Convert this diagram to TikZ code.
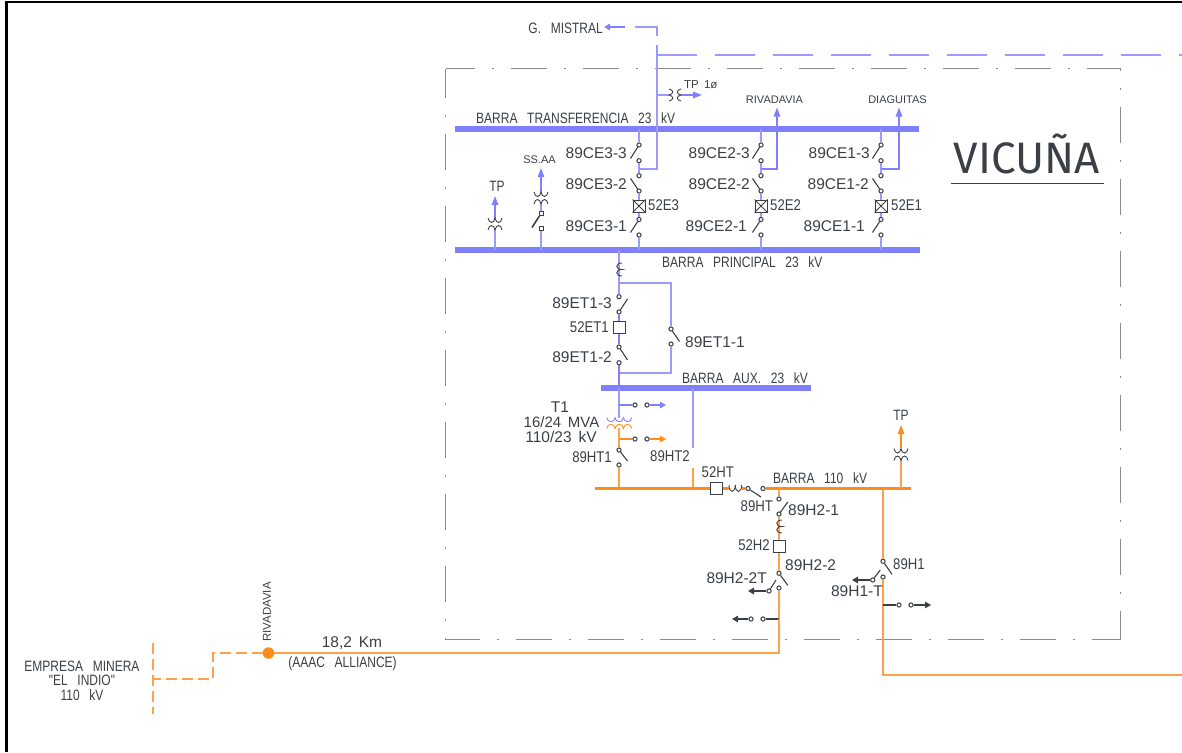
\documentclass[tikz,border=0pt]{standalone}
\usepackage{fontspec}
\setmainfont[WordSpace=1.6]{Liberation Sans}
\newfontfamily\barf[FakeStretch=0.8,WordSpace=2.9]{Liberation Sans}
\newfontfamily\midf[FakeStretch=0.85]{Liberation Sans}
\newfontfamily\titlefont{Fira Sans}
\usetikzlibrary{arrows.meta}
\definecolor{bluel}{HTML}{8080FF}
\definecolor{orangel}{HTML}{FF8C1A}
\definecolor{bluet}{HTML}{9A9AFF}
\definecolor{oranget}{HTML}{FFA04A}
\definecolor{inkc}{HTML}{3A4046}
\definecolor{boxc}{HTML}{8C8C8C}
\tikzset{
  lbl/.style={inner sep=0pt,text=inkc,font=\fontsize{15.5}{15.5}\selectfont},
  lbe/.style={lbl,anchor=east},
  lbw/.style={lbl,anchor=west},
  nar/.style={lbl,font=\barf\fontsize{15}{15}\selectfont},
  mid/.style={lbl,font=\midf\fontsize{15.5}{15.5}\selectfont},
  sml/.style={lbl,font=\fontsize{11}{11}\selectfont},
  term/.style={circle,draw=inkc,fill=white,line width=1pt,inner sep=0pt,minimum size=4.2pt},
  sqterm/.style={rectangle,draw=inkc,fill=white,line width=1pt,inner sep=0pt,minimum size=4pt},
  brk/.style={rectangle,draw=inkc,fill=white,line width=1pt,inner sep=0pt,minimum size=12pt},
  blade/.style={draw=inkc,line width=1.1pt},
  coil/.style={draw=inkc,line width=.9pt},
  bl/.style={draw=bluet,line width=1.2pt},
  or/.style={draw=oranget,line width=1.2pt},
  dk/.style={draw=inkc,line width=1.1pt},
  blbar/.style={draw=bluel,line width=6pt},
  orbar/.style={draw=orangel,line width=3.4pt},
  tipb/.style={-{Triangle[length=9pt,width=6.5pt]}},
  tipd/.style={-{Triangle[length=6pt,width=6.5pt]}},
}
\newcommand{\tfv}[3][coil]{\begin{scope}[shift={(#2,#3)}]
  \draw[#1] (-7,-6) .. controls (-6,0) and (-1,0) .. (0,-6) .. controls (1,0) and (6,0) .. (7,-6);
  \draw[#1] (-7,6) .. controls (-6,0) and (-1,0) .. (0,6) .. controls (1,0) and (6,0) .. (7,6);
\end{scope}}
\newcommand{\ctv}[2]{\draw[coil] (#1+3,#2-6.5) .. controls (#1-4,#2-6.5) and (#1-4,#2) .. (#1+3,#2) .. controls (#1-4,#2) and (#1-4,#2+6.5) .. (#1+3,#2+6.5);}
\newcommand{\feeder}[2]{
  \node[term] (#1a) at (#2,145) {};
  \node[term] (#1b) at (#2,160.7) {};
  \node[term] (#1c) at (#2,175.7) {};
  \node[term] (#1d) at (#2,191) {};
  \node[brk] (#1k) at (#2,206) {};
  \draw[coil] (#1k.north west) -- (#1k.south east) (#1k.north east) -- (#1k.south west);
  \node[term] (#1e) at (#2,219.5) {};
  \node[term] (#1f) at (#2,235) {};
  \coordinate (#1j) at (#2,169);
  \coordinate (#1t) at (#2,129);
  \coordinate (#1p) at (#2,250);
  \draw[bl] (#1t) -- (#1a);
  \draw[bl] (#1b) -- (#1j) -- (#1c);
  \draw[bl] (#1d) -- (#1k);
  \draw[bl] (#1k) -- (#1e);
  \draw[bl] (#1f) -- (#1p);
  \draw[blade] (#1a) -- ++(-8.5,13.5);
  \draw[blade] (#1d) -- ++(-8.5,-12.5);
  \draw[blade] (#1e) -- ++(-8.5,13);
}
\begin{document}
\begin{tikzpicture}[x=1pt,y=-1pt]
\useasboundingbox (0,0) rectangle (1182,752);
\coordinate (fa) at (1182,2); \coordinate (fb) at (6.5,2); \coordinate (fc) at (6.5,752);
\draw[black,line width=2.6pt] (fa) -- (fb) -- (fc);
\draw[boxc,line width=1.2pt,dash pattern=on 36pt off 17pt on 2pt off 17pt,dash phase=7pt] (445.5,68.5) -- (1120.5,68.5) -- (1120.5,639.5);
\draw[boxc,line width=1.2pt,dash pattern=on 36pt off 17pt on 2pt off 17pt,dash phase=7pt] (445.5,68.5) -- (445.5,639.5) -- (1120.5,639.5);
\coordinate (btl) at (455,129); \coordinate (btr) at (919,129);
\coordinate (bpl) at (455,250); \coordinate (bpr) at (920,250);
\coordinate (bal) at (601,388); \coordinate (bar) at (811,388);
\draw[blbar] (btl) -- (btr);
\draw[blbar] (bpl) -- (bpr);
\draw[blbar] (bal) -- (bar);
\feeder{eiii}{639}
\feeder{eii}{761}
\feeder{ei}{881}
\node[lbe] (l1) at (627,153) {89CE3-3};
\node[lbe] (l2) at (627,184) {89CE3-2};
\node[mid,anchor=west] (l3) at (648,205) {52E3};
\node[lbe] (l4) at (627,226) {89CE3-1};
\node[lbe] (l5) at (750,153) {89CE2-3};
\node[lbe] (l6) at (750,184) {89CE2-2};
\node[mid,anchor=west] (l7) at (770,205) {52E2};
\node[lbe] (l8) at (747,226) {89CE2-1};
\node[lbe] (l9) at (870,153) {89CE1-3};
\node[lbe] (l10) at (869,184) {89CE1-2};
\node[mid,anchor=west] (l11) at (891,205) {52E1};
\node[lbe] (l12) at (865,226) {89CE1-1};
\coordinate (gm1) at (657,169); \coordinate (gm2) at (657,45); \coordinate (gm3) at (657,36);
\coordinate (gm4) at (657,27); \coordinate (gm5) at (635,27); \coordinate (gm6) at (625,27); \coordinate (gm7) at (604,27);
\draw[bl] (eiiij) -- (gm1) -- (gm2);
\draw[bl] (gm3) -- (gm4) -- (gm5);
\draw[bl,draw=bluel,tipd] (gm6) -- (gm7);
\coordinate (dsh) at (1182,55); \coordinate (dsh0) at (657,55);
\draw[bl,dash pattern=on 40pt off 18pt] (dsh0) -- (dsh);
\node[nar,anchor=east] (gm) at (603,28) {G. MISTRAL};
\coordinate (tp0) at (657,95); \coordinate (tp1) at (668.5,95); \coordinate (tp2) at (681,95); \coordinate (tp3) at (702,95);
\draw[bl] (tp0) -- (tp1);
\draw[bl,draw=bluel,tipb] (tp2) -- (tp3);
\begin{scope}[shift={(675,95)},rotate=90]
  \draw[coil] (-6,-6) .. controls (-5,-1) and (-1,-1) .. (0,-6) .. controls (1,-1) and (5,-1) .. (6,-6);
  \draw[coil] (-6,6) .. controls (-5,1) and (-1,1) .. (0,6) .. controls (1,1) and (5,1) .. (6,6);
\end{scope}
\node[lbl,font=\fontsize{11.5}{11.5}\selectfont,anchor=west] (tpl) at (684,85) {TP 1ø};
\node[nar,anchor=west] (bt) at (476,118) {BARRA TRANSFERENCIA 23 kV};
\node[nar,anchor=west] (bp) at (662,262) {BARRA PRINCIPAL 23 kV};
\coordinate (rv1) at (777,169); \coordinate (rv2) at (777,107.5);
\draw[bl,draw=bluel,tipb] (eiij) -- (rv1) -- (rv2);
\coordinate (dg1) at (899,169); \coordinate (dg2) at (899,107.5);
\draw[bl,draw=bluel,tipb] (eij) -- (dg1) -- (dg2);
\node[sml] (rv) at (774.5,100) {RIVADAVIA};
\node[sml] (dg) at (897.5,100) {DIAGUITAS};
\coordinate (tl0) at (495,250); \coordinate (tl1) at (495,230); \coordinate (tl2) at (495,218); \coordinate (tl3) at (495,196);
\draw[bl] (tl0) -- (tl1);
\draw[bl,draw=bluel,tipb] (tl2) -- (tl3);
\tfv{495}{224}
\node[nar] (tpa) at (497,186) {TP};
\node[sqterm] (ssa) at (541,228.5) {};
\node[sqterm] (ssb) at (541,213.5) {};
\coordinate (ss0) at (541,250); \coordinate (ss1) at (541,204); \coordinate (ss2) at (541,192); \coordinate (ss3) at (541,168);
\draw[bl] (ss0) -- (ssa);
\draw[bl] (ssb) -- (ss1);
\draw[bl,draw=bluel,tipb] (ss2) -- (ss3);
\tfv{541}{198}
\draw[blade,line width=1.6pt] (ssb) -- ++(-9,14);
\node[sml] (ssl) at (539.5,160) {SS.AA};
\node[term] (eta) at (619,296.7) {};
\node[term] (etb) at (619,312) {};
\node[brk] (etk) at (619,327.5) {};
\node[term] (etc) at (619,347) {};
\node[term] (etd) at (619,362.7) {};
\node[term] (ete) at (671,329) {};
\node[term] (etf) at (671,344) {};
\coordinate (et0) at (619,250); \coordinate (et1) at (619,283); \coordinate (et2) at (671,283);
\coordinate (et3) at (671,373); \coordinate (et4) at (619,373); \coordinate (et5) at (619,388);
\draw[bl] (et0) -- (et1) -- (eta);
\draw[bl] (et1) -- (et2) -- (ete);
\draw[bl] (etf) -- (et3) -- (et4);
\draw[bl,draw=bluel] (etb) -- (etk);
\draw[bl,draw=bluel] (etk) -- (etc);
\draw[bl,draw=bluel] (etd) -- (et5);
\ctv{619}{269.5}
\draw[blade] (etb) -- ++(8.5,-13);
\draw[blade] (etc) -- ++(8.5,13);
\draw[blade] (ete) -- ++(8.5,12.5);
\node[lbe] (l13) at (612,303) {89ET1-3};
\node[mid,anchor=east] (l14) at (609,327) {52ET1};
\node[lbe] (l15) at (612,357) {89ET1-2};
\node[lbw] (l16) at (685,342) {89ET1-1};
\node[nar,anchor=west] (ba) at (682,378) {BARRA AUX. 23 kV};
\coordinate (t1a) at (619,417.7); \coordinate (t1b) at (619,428);
\coordinate (t1c) at (619,405); \coordinate (t1d) at (619,439);
\draw[bl] (et5) -- (t1a);
\draw[bluel,line width=.9pt] (606.7,417.7) .. controls (607.5,423) and (614.5,423) .. (615,417.7) .. controls (615.5,423) and (623,423) .. (623.4,417.7) .. controls (624,423) and (631,423) .. (631.7,417.7);
\draw[orangel,line width=.9pt] (606.7,428.5) .. controls (607.5,423) and (614.5,423) .. (615,428.5) .. controls (615.5,423) and (623,423) .. (623.4,428.5) .. controls (624,423) and (631,423) .. (631.7,428.5);
\node[term] (bta) at (635,405) {};
\node[term] (btb) at (647,405) {};
\coordinate (btt) at (666,405);
\draw[bl,draw=bluel] (t1c) -- (bta);
\draw[bl,draw=bluel,tipd] (btb) -- (btt);
\node[term] (ota) at (635,439) {};
\node[term] (otb) at (647,439) {};
\coordinate (ott) at (666,439);
\draw[or,draw=orangel] (t1d) -- (ota);
\draw[or,draw=orangel,tipd] (otb) -- (ott);
\node[term] (hta) at (619,450) {};
\node[term] (htb) at (619,465) {};
\coordinate (ht0) at (619,488.5);
\draw[or] (t1b) -- (hta);
\draw[or] (htb) -- (ht0);
\draw[blade] (hta) -- ++(8.5,11);
\node[lbl] (t1l) at (560,407) {T1};
\node[lbl,font=\fontsize{15}{15}\selectfont] (t1m) at (561.5,422) {16/24 MVA};
\node[lbl] (t1n) at (561,436.5) {110/23 kV};
\node[mid,anchor=east] (l17) at (612,457) {89HT1};
\coordinate (h2a) at (693,388); \coordinate (h2b) at (693,448); \coordinate (h2c) at (693,468); \coordinate (h2d) at (693,488.5);
\draw[bl] (h2a) -- (h2b);
\draw[or] (h2c) -- (h2d);
\node[mid,anchor=west] (l18) at (650,456) {89HT2};
\node[brk] (hk) at (716.7,488.5) {};
\node[term] (hs1) at (748,488.5) {};
\node[term] (hs2) at (763,488.5) {};
\coordinate (b1) at (595,488.5); \coordinate (b2) at (729,488.5); \coordinate (b3) at (741.7,488.5); \coordinate (b4) at (911,488.5);
\draw[orbar] (b1) -- (hk);
\draw[orbar] (hk) -- (b2);
\draw[orbar] (b3) -- (hs1);
\draw[orbar] (hs2) -- (b4);
\draw[coil] (729,485) .. controls (729,493.5) and (735.3,493.5) .. (735.3,485) .. controls (735.3,493.5) and (741.7,493.5) .. (741.7,485);
\draw[blade] (hs1) -- ++(13,8.5);
\node[mid,anchor=west] (l19) at (701.5,472) {52HT};
\node[nar,anchor=west] (bh) at (773,478) {BARRA 110 kV};
\node[mid,anchor=west] (l20) at (740.5,506) {89HT};
\node[term] (ha) at (779,499) {};
\node[term] (hb) at (779,514) {};
\node[brk] (hh) at (779,546) {};
\node[term] (hc) at (779,573.3) {};
\node[term] (hd) at (779,588) {};
\coordinate (h0) at (779,488.5); \coordinate (h9) at (779,653); \coordinate (h8) at (779,619);
\draw[or] (h0) -- (ha);
\draw[or] (hb) -- (hh);
\draw[or] (hh) -- (hc);
\draw[or] (hd) -- (h9);
\ctv{779}{526.5}
\draw[blade] (hb) -- ++(8.8,-12);
\draw[blade] (hc) -- ++(8.8,12);
\node[term] (hte) at (769,591) {};
\coordinate (htt) at (748,591);
\draw[blade] (hte) -- ++(7,-11);
\draw[dk,line width=1.4pt,tipd] (hte) -- (htt);
\node[term] (hg) at (763,619) {};
\node[term] (hf) at (751,619) {};
\coordinate (hgt) at (732,619);
\draw[dk] (h8) -- (hg);
\draw[dk,tipd] (hf) -- (hgt);
\node[lbw] (l21) at (788,510) {89H2-1};
\node[mid,anchor=east] (l22) at (770,545) {52H2};
\node[lbw] (l23) at (785,565) {89H2-2};
\node[lbe] (l24) at (767,578) {89H2-2T};
\node[term] (ka) at (883,561.3) {};
\node[term] (kb) at (883,577) {};
\coordinate (k0) at (883,488.5); \coordinate (k1) at (883,675); \coordinate (k2) at (1182,675); \coordinate (k3) at (883,605);
\draw[or] (k0) -- (ka);
\draw[or] (kb) -- (k1) -- (k2);
\draw[blade] (ka) -- ++(9,13);
\node[term] (kt) at (872.7,580) {};
\coordinate (ktt) at (852,580);
\draw[blade] (kt) -- ++(7.5,-10);
\draw[dk,line width=1.4pt,tipd] (kt) -- (ktt);
\node[term] (kc) at (899,605) {};
\node[term] (kd) at (911,605) {};
\coordinate (kdt) at (931,605);
\draw[dk] (k3) -- (kc);
\draw[dk,tipd] (kd) -- (kdt);
\node[mid,anchor=west] (l25) at (893,564) {89H1};
\node[lbe] (l26) at (883,591) {89H1-T};
\coordinate (o0) at (901,488.5); \coordinate (o1) at (901,461); \coordinate (o2) at (901,448); \coordinate (o3) at (901,425);
\draw[or] (o0) -- (o1);
\draw[or,draw=orangel,tipb] (o2) -- (o3);
\tfv{901}{454.5}
\node[nar] (tpo) at (901,415) {TP};
\node[circle,fill=orangel,inner sep=0pt,minimum size=11.5pt] (rd) at (268.5,653) {};
\coordinate (d1) at (213,653); \coordinate (d2) at (213,679); \coordinate (d3) at (153,679);
\coordinate (d4) at (153,643); \coordinate (d5) at (153,714);
\draw[or] (h8) -- (h9) -- (rd);
\draw[or,dash pattern=on 11pt off 5pt] (rd) -- (d1) -- (d2) -- (d3);
\draw[or,dash pattern=on 11pt off 5pt] (d4) -- (d5);
\node[lbl,font=\fontsize{11.5}{11.5}\selectfont,rotate=90] (rdl) at (267,612) {RIVADAVIA};
\node[lbl] (km) at (352,643) {18,2 Km};
\node[nar] (aa) at (342.5,664) {(AAAC ALLIANCE)};
\node[nar] (em) at (82,666) {EMPRESA MINERA};
\node[nar] (ei) at (82,680.5) {"EL INDIO"};
\node[nar] (ev) at (82,695) {110 kV};
\node[lbl,anchor=base,font=\titlefont\fontsize{44}{44}\selectfont,text=inkc] (vic) at (1027,173) {VICUÑA};
\coordinate (ua) at (951,183.5); \coordinate (ub) at (1104,183.5);
\draw[inkc,line width=1.3pt] (ua) -- (ub);
\end{tikzpicture}
\end{document}
